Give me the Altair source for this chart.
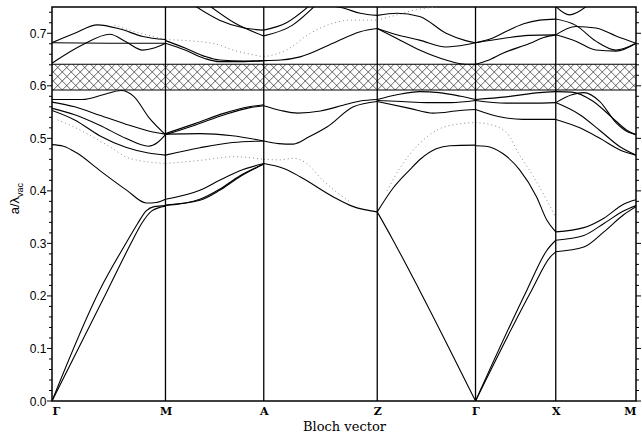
import altair as alt
import pandas as pd
import numpy as np

# Plot area size in pixels
W, H = 584, 394

# High-symmetry points along the Bloch-vector path
K_NAMES = ["Γ", "M", "A", "Z", "Γ", "X", "M"]
K_POS = [0.0, 0.7071, 1.3195, 2.0266, 2.6390, 3.1390, 3.6390]

# Photonic band gap (normalised frequency)
GAP = (0.592, 0.641)
Y_MAX = 0.75

# Bands for each path segment: name -> [(fraction along segment, a/lambda_vac)]
# names starting with "dot" are drawn dotted
SEG_GM = {
    "a1": [(0, 0), (0.42, 0.211), (0.667, 0.306), (0.755, 0.338), (0.83, 0.362), (0.9, 0.370), (1, 0.372)],
    "a2": [(0, 0), (0.49, 0.211), (0.71, 0.306), (0.79, 0.338), (0.88, 0.362), (1, 0.371)],
    "b5": [(0, 0.488), (0.1, 0.485), (0.22, 0.472), (0.42, 0.439), (0.66, 0.401), (0.83, 0.377), (0.92, 0.378), (1, 0.384)],
    "b4": [(0, 0.553), (0.2, 0.535), (0.42, 0.505), (0.65, 0.483), (0.85, 0.472), (1, 0.468)],
    "b3": [(0, 0.557), (0.2, 0.545), (0.42, 0.525), (0.65, 0.50), (0.85, 0.485), (0.93, 0.492), (1, 0.507)],
    "b2": [(0, 0.569), (0.2, 0.56), (0.42, 0.544), (0.65, 0.527), (0.85, 0.514), (1, 0.508)],
    "b1": [(0, 0.574), (0.27, 0.574), (0.45, 0.583), (0.61, 0.591), (0.72, 0.58), (0.86, 0.538), (1, 0.507)],
    "c1": [(0, 0.682), (0.2, 0.700), (0.4, 0.716), (0.6, 0.708), (0.8, 0.694), (1, 0.688)],
    "c2": [(0, 0.682), (0.5, 0.681), (1, 0.681)],
    "c3": [(0, 0.643), (0.27, 0.678), (0.51, 0.698), (0.65, 0.684), (0.8, 0.668), (0.9, 0.672), (1, 0.681)],
    "dot1": [(0.55, 0.715), (0.75, 0.702), (1, 0.688)],
    "dot2": [(0.05, 0.535), (0.16, 0.525), (0.51, 0.484), (0.68, 0.462), (1, 0.452)],
}

SEG_MA = {
    "u1": [(0, 0.384), (0.35, 0.401), (0.55, 0.42), (0.75, 0.438), (1, 0.452)],
    "u2": [(0, 0.372), (0.35, 0.384), (0.55, 0.403), (0.75, 0.428), (1, 0.451)],
    "u3": [(0, 0.373), (0.35, 0.382), (0.55, 0.401), (0.75, 0.426), (1, 0.451)],
    "c1": [(0, 0.468), (0.35, 0.482), (0.68, 0.492), (1, 0.495)],
    "c2": [(0, 0.508), (0.35, 0.509), (0.68, 0.505), (1, 0.495)],
    "c3": [(0, 0.507), (0.3, 0.525), (0.6, 0.545), (0.85, 0.558), (1, 0.562)],
    "c4": [(0, 0.509), (0.3, 0.528), (0.6, 0.548), (0.85, 0.56), (1, 0.564)],
    "e1": [(0, 0.681), (0.2, 0.668), (0.4, 0.652), (0.55, 0.646), (0.8, 0.646), (1, 0.648)],
    "e2": [(0, 0.686), (0.2, 0.672), (0.4, 0.656), (0.55, 0.649), (0.8, 0.647), (1, 0.648)],
    "t1": [(0.3, 0.752), (0.55, 0.725), (0.8, 0.71), (1, 0.706)],
    "t2": [(0.45, 0.752), (0.7, 0.72), (1, 0.695)],
    "dot1": [(0, 0.452), (0.35, 0.458), (0.7, 0.465), (1, 0.46)],
    "dot2": [(0, 0.688), (0.48, 0.681), (0.69, 0.668), (1, 0.655)],
}

SEG_AZ = {
    "c3": [(0, 0.562), (0.15, 0.553), (0.3, 0.548), (0.5, 0.552), (0.7, 0.563), (0.85, 0.571), (1, 0.574)],
    "c1": [(0, 0.495), (0.13, 0.49), (0.26, 0.489), (0.4, 0.503), (0.56, 0.522), (0.79, 0.56), (1, 0.570)],
    "d1": [(0, 0.452), (0.17, 0.443), (0.32, 0.427), (0.61, 0.389), (0.79, 0.37), (1, 0.360)],
    "e1": [(0, 0.648), (0.15, 0.649), (0.32, 0.655), (0.61, 0.681), (0.85, 0.703), (1, 0.709)],
    "t1": [(0, 0.706), (0.2, 0.72), (0.4, 0.752)],
    "t2": [(0, 0.695), (0.25, 0.715), (0.45, 0.752)],
    "f1": [(0.6, 0.752), (0.7, 0.748), (0.85, 0.738), (1, 0.734)],
    "dot1": [(0, 0.46), (0.14, 0.459), (0.26, 0.462), (0.38, 0.452), (0.52, 0.42), (0.64, 0.398), (0.76, 0.379)],
    "dot2": [(0, 0.655), (0.2, 0.668), (0.41, 0.70), (0.61, 0.719), (0.76, 0.725), (1, 0.725)],
}

SEG_ZG = {
    "g1": [(0, 0.574), (0.2, 0.583), (0.43, 0.589), (0.63, 0.587), (0.85, 0.58), (1, 0.574)],
    "g2": [(0, 0.572), (0.25, 0.57), (0.5, 0.568), (0.75, 0.568), (1, 0.572)],
    "g3": [(0, 0.570), (0.33, 0.557), (0.57, 0.548), (0.84, 0.553), (1, 0.555)],
    "g4": [(0, 0.36), (0.16, 0.405), (0.33, 0.44), (0.45, 0.462), (0.6, 0.48), (0.74, 0.486), (1, 0.487)],
    "ac": [(0, 0.36), (0.15, 0.31), (0.43, 0.211), (1, 0)],
    "h1": [(0, 0.709), (0.2, 0.697), (0.43, 0.687), (0.7, 0.674), (0.9, 0.678), (1, 0.682)],
    "h2": [(0, 0.709), (0.2, 0.69), (0.43, 0.668), (0.7, 0.649), (0.9, 0.641), (1, 0.641)],
    "h3": [(0, 0.734), (0.2, 0.738), (0.43, 0.732), (0.7, 0.70), (0.9, 0.686), (1, 0.682)],
    "dot1": [(0.1, 0.40), (0.23, 0.443), (0.43, 0.49), (0.6, 0.515), (0.85, 0.528), (1, 0.53)],
    "dot2": [(0, 0.725), (0.2, 0.735), (0.4, 0.745), (0.6, 0.75)],
}

SEG_GX = {
    "i1": [(0, 0.682), (0.34, 0.69), (0.66, 0.696), (1, 0.697)],
    "i2": [(0, 0.682), (0.2, 0.69), (0.4, 0.705), (0.6, 0.718), (0.8, 0.725), (1, 0.727)],
    "i3": [(0, 0.641), (0.15, 0.648), (0.34, 0.662), (0.68, 0.681), (0.85, 0.692), (1, 0.697)],
    "j1": [(0, 0.574), (0.38, 0.579), (0.8, 0.587), (1, 0.589)],
    "j2": [(0, 0.572), (0.38, 0.567), (0.7, 0.567), (1, 0.568)],
    "j3": [(0, 0.555), (0.3, 0.541), (0.59, 0.536), (1, 0.536)],
    "j4": [(0, 0.486), (0.13, 0.485), (0.34, 0.471), (0.55, 0.44), (0.76, 0.389), (0.89, 0.344), (1, 0.322)],
    "k1": [(0, 0), (0.64, 0.211), (0.89, 0.287), (1, 0.306)],
    "k2": [(0, 0), (0.7, 0.211), (0.93, 0.274), (1, 0.284)],
    "dot1": [(0, 0.53), (0.13, 0.528), (0.38, 0.512), (0.55, 0.468), (0.71, 0.43), (0.89, 0.382), (1, 0.35)],
}

SEG_XM = {
    "l1": [(0, 0.322), (0.35, 0.33), (0.6, 0.348), (0.85, 0.375), (1, 0.383)],
    "l2": [(0, 0.306), (0.35, 0.315), (0.6, 0.338), (0.85, 0.362), (1, 0.372)],
    "l3": [(0, 0.284), (0.35, 0.293), (0.6, 0.322), (0.85, 0.355), (1, 0.37)],
    "m1": [(0, 0.589), (0.2, 0.588), (0.45, 0.572), (0.7, 0.54), (0.88, 0.516), (1, 0.507)],
    "m2": [(0, 0.568), (0.2, 0.583), (0.35, 0.587), (0.55, 0.57), (0.75, 0.53), (0.9, 0.512), (1, 0.507)],
    "m3": [(0, 0.568), (0.3, 0.545), (0.55, 0.515), (0.8, 0.484), (1, 0.468)],
    "m4": [(0, 0.536), (0.3, 0.52), (0.55, 0.5), (0.8, 0.478), (1, 0.468)],
    "n1": [(0, 0.697), (0.25, 0.713), (0.5, 0.71), (0.75, 0.695), (1, 0.681)],
    "n2": [(0, 0.727), (0.25, 0.715), (0.5, 0.685), (0.75, 0.668), (1, 0.681)],
    "n3": [(0, 0.697), (0.25, 0.685), (0.5, 0.668), (0.75, 0.666), (1, 0.681)],
    "p1": [(0, 0.751), (0.17, 0.735), (0.39, 0.752)],
}

SEGMENTS = [SEG_GM, SEG_MA, SEG_AZ, SEG_ZG, SEG_GX, SEG_XM]

# Axis ticks
MAJOR_TICKS = [0.0, 0.1, 0.2, 0.3, 0.4, 0.5, 0.6, 0.7]
MINOR_TICKS = [0.02, 0.04, 0.06, 0.08, 0.12, 0.14, 0.16, 0.18, 0.22, 0.24, 0.26, 0.28,
               0.32, 0.34, 0.36, 0.38, 0.42, 0.44, 0.46, 0.48, 0.52, 0.54, 0.56, 0.58,
               0.62, 0.64, 0.66, 0.68, 0.72, 0.74]

# ---- build long-form band table ----
rows = []
for i, seg in enumerate(SEGMENTS):
    k0, k1 = K_POS[i], K_POS[i + 1]
    for name, pts in seg.items():
        for f, v in pts:
            rows.append({"k": k0 + f * (k1 - k0), "y": v,
                         "curve": f"{i}-{name}", "dotted": name.startswith("dot")})
bands = pd.DataFrame(rows)
solid = bands[~bands["dotted"]]
dotted = bands[bands["dotted"]]

x_scale = alt.Scale(domain=[K_POS[0], K_POS[-1]], nice=False, zero=False)
y_scale = alt.Scale(domain=[0, Y_MAX], nice=False)

label_expr = "[" + ",".join(f"'{n}'" for n in K_NAMES) + "][indexof([" + \
    ",".join(str(p) for p in K_POS) + "], datum.value)]"

# one shared axis definition used by every layer so that they merge cleanly
x_axis = alt.Axis(values=K_POS, labelExpr=label_expr, ticks=False, domain=False, grid=False,
                  labelFont="DejaVu Serif", labelFontSize=11, labelFontWeight="bold",
                  labelPadding=4, labelColor="black",
                  title="Bloch vector", titleFont="DejaVu Serif", titleFontSize=13,
                  titleFontWeight="normal", titlePadding=4, titleColor="black")
y_axis = alt.Axis(values=MAJOR_TICKS, format=".1f", ticks=False, domain=False, grid=False,
                  labelFont="Liberation Sans", labelFontSize=12, labelPadding=6,
                  labelColor="black", title=None)

X = lambda f: alt.X(f, scale=x_scale, axis=x_axis)
Y = lambda f: alt.Y(f, scale=y_scale, axis=y_axis)

# ---- cross-hatched band gap ----
sx = W / (K_POS[-1] - K_POS[0])
sy = H / Y_MAX
gap_px = (GAP[1] - GAP[0]) * sy
step = 9.0
hatch = []
x0 = -gap_px
while x0 < W + gap_px:
    kx = x0 / sx
    dk = gap_px / sx
    hatch.append({"k": kx, "k2": kx + dk, "y": GAP[0], "y2": GAP[1]})
    hatch.append({"k": kx, "k2": kx - dk, "y": GAP[0], "y2": GAP[1]})
    x0 += step
hatch = pd.DataFrame(hatch)

hatch_layer = alt.Chart(hatch).mark_rule(clip=True, color="#222", strokeWidth=0.7).encode(
    x=X("k:Q"), x2="k2:Q", y=Y("y:Q"), y2="y2:Q")

gap_edges = alt.Chart(pd.DataFrame({"y": list(GAP)})).mark_rule(color="black", strokeWidth=1.2).encode(
    y=Y("y:Q"), x=alt.value(0), x2=alt.value(W))

solid_layer = alt.Chart(solid).mark_line(interpolate="monotone", clip=True, color="black",
                                         strokeWidth=1.1).encode(
    x=X("k:Q"), y=Y("y:Q"), detail="curve:N", order="k:Q")

dotted_layer = alt.Chart(dotted).mark_line(interpolate="monotone", clip=True, color="#8a8a8a",
                                           strokeWidth=1.0, strokeDash=[1, 3]).encode(
    x=X("k:Q"), y=Y("y:Q"), detail="curve:N", order="k:Q")

kpts = pd.DataFrame({"k": K_POS[1:-1]})
kpt_layer = alt.Chart(kpts).mark_rule(color="black", strokeWidth=1.3).encode(
    x=X("k:Q"), y=alt.value(0), y2=alt.value(H))

major = pd.DataFrame({"y": MAJOR_TICKS})
minor = pd.DataFrame({"y": MINOR_TICKS})


def tick_layer(df, x_from, x_to):
    return alt.Chart(df).mark_rule(color="black", strokeWidth=1.0).encode(
        y=Y("y:Q"), x=alt.value(x_from), x2=alt.value(x_to))


ticks = (tick_layer(major, -5, 0) + tick_layer(minor, -3, 0) +
         tick_layer(major, W, W + 5) + tick_layer(minor, W, W + 3))

ytitle_main = alt.Chart(pd.DataFrame({"t": ["a/λ"]})).mark_text(
    angle=270, align="right", baseline="middle", fontSize=13, font="Liberation Sans",
    color="black").encode(text="t:N", x=alt.value(-37), y=alt.value(190))
ytitle_sub = alt.Chart(pd.DataFrame({"t": ["vac"]})).mark_text(
    angle=270, align="left", baseline="middle", fontSize=9, font="Liberation Sans",
    color="black").encode(text="t:N", x=alt.value(-32), y=alt.value(190))

chart = alt.layer(
    hatch_layer, gap_edges, dotted_layer, solid_layer, kpt_layer, ticks,
    ytitle_main, ytitle_sub
).properties(
    width=W, height=H,
    autosize=alt.AutoSizeParams(type="none"),
    padding={"left": 52, "top": 7, "right": 6, "bottom": 35},
    background="white",
).configure_view(stroke="black", strokeWidth=1.5)

chart.save("out.html", embed_options={"renderer": "svg", "actions": False})
